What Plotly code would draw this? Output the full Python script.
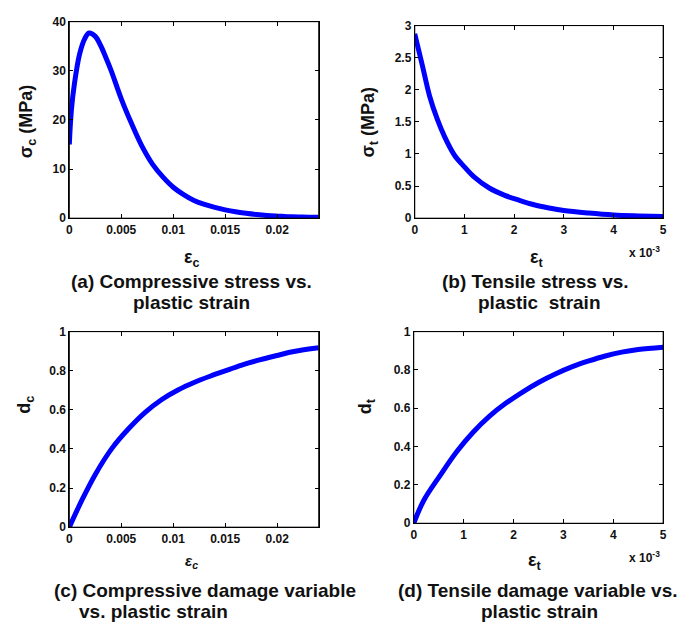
import plotly.graph_objects as go

# (a) compressive stress vs plastic strain
eps_c_a = [0, 0.0002, 0.0005, 0.001, 0.0015, 0.0019, 0.0025, 0.003, 0.0035, 0.004,
           0.005, 0.006, 0.007, 0.008, 0.009, 0.010, 0.011, 0.012, 0.013, 0.014,
           0.015, 0.016, 0.017, 0.018, 0.019, 0.020, 0.021, 0.022, 0.023, 0.024]
sigma_c = [15, 22, 27.5, 33.5, 36.6, 37.7, 37.0, 35.2, 32.8, 30.2,
           24.3, 19.2, 14.6, 11.0, 8.4, 6.3, 4.8, 3.6, 2.8, 2.2,
           1.7, 1.3, 1.0, 0.75, 0.55, 0.42, 0.32, 0.25, 0.2, 0.17]

# (b) tensile stress vs plastic strain (strain in units of 1e-3)
eps_t_b = [0, 0.15, 0.3, 0.45, 0.6, 0.8, 1.0, 1.2, 1.5, 1.8, 2.1, 2.4, 2.7, 3.0, 3.5, 4.0, 4.5, 5.0]
sigma_t = [2.87, 2.39, 1.9, 1.55, 1.27, 0.98, 0.80, 0.64, 0.47, 0.36, 0.28, 0.21, 0.16, 0.12,
           0.08, 0.05, 0.035, 0.025]

# (c) compressive damage variable
eps_c_c = [0, 0.0012, 0.0025, 0.0041, 0.0057, 0.0073, 0.0089, 0.0105, 0.0120, 0.0136,
           0.0152, 0.0168, 0.0184, 0.0200, 0.0216, 0.0240]
d_c = [0, 0.137, 0.27, 0.403, 0.503, 0.587, 0.653, 0.703, 0.74, 0.773,
       0.803, 0.833, 0.857, 0.878, 0.898, 0.917]

# (d) tensile damage variable (strain in units of 1e-3)
eps_t_d = [0, 0.2, 0.53, 0.86, 1.19, 1.52, 1.85, 2.19, 2.52, 2.85, 3.18, 3.51, 3.84, 4.17, 4.5, 5.0]
d_t = [0, 0.119, 0.25, 0.373, 0.475, 0.559, 0.627, 0.686, 0.737, 0.78, 0.817, 0.847,
       0.873, 0.893, 0.907, 0.919]

W, H = 683, 630
FONT = "Liberation Sans, Arial, sans-serif"
BLUE = "#0000FF"


def px(x):
    return x / W


def py(y):
    return 1 - y / H


fig = go.Figure()

panels = [
    (eps_c_a, sigma_c, "", (67, 319), (15, 216), [0, 0.024], [0, 40], 0.005, 10),
    (eps_t_b, sigma_t, "2", (416, 667), (19, 216), [0, 5], [0, 3], 1, 0.5),
    (eps_c_c, d_c, "3", (67, 319), (332, 532), [0, 0.024], [0, 1], 0.005, 0.2),
    (eps_t_d, d_t, "4", (415, 667), (332, 528), [0, 5], [0, 1], 1, 0.2),
]

layout = {}
shapes = []
for xs, ys, s, (x0, x1), (y0, y1), xr, yr, xd, yd in panels:
    fig.add_trace(go.Scatter(x=xs, y=ys, mode="lines",
                             line=dict(color=BLUE, width=5, shape="spline", smoothing=1.0),
                             xaxis="x" + s, yaxis="y" + s, showlegend=False))
    common = dict(showline=True, linecolor="black", linewidth=1, mirror="ticks", ticks="inside",
                  ticklen=4, tickwidth=1, tickcolor="black", showgrid=False, zeroline=False,
                  tickfont=dict(family=FONT, size=12, color="#111", weight="bold"))
    layout["xaxis" + s] = dict(domain=[px(x0), px(x1)], range=xr, dtick=xd, tick0=0,
                               anchor="y" + s, **common)
    layout["yaxis" + s] = dict(domain=[py(y1), py(y0)], range=yr, dtick=yd, tick0=0,
                               anchor="x" + s, **common)
    shapes.append(dict(type="rect", xref="x" + s + " domain", yref="y" + s + " domain",
                       x0=0, x1=1, y0=0, y1=1, line=dict(color="black", width=1),
                       fillcolor="rgba(0,0,0,0)", layer="above"))

fig.update_layout(**layout)

annots = []


def txt(x, y, text, size, angle=0, xanchor="center", italic=False):
    annots.append(dict(x=px(x), y=py(y), xref="paper", yref="paper", text=text, showarrow=False,
                       textangle=angle, xanchor=xanchor, yanchor="middle",
                       font=dict(family=FONT, size=size, color="#111", weight="bold",
                                 style="italic" if italic else "normal")))


# axis titles
txt(25, 117, "σ<sub>c</sub> (MPa)", 18, angle=-90)
txt(370, 118, "σ<sub>t</sub> (MPa)", 18, angle=-90)
txt(23, 407, "d<sub>c</sub>", 18, angle=-90)
txt(368, 408, "d<sub>t</sub>", 18, angle=-90)
txt(191, 257, "ε<sub>c</sub>", 18)
txt(540, 257, "ε<sub>t</sub>", 18)
txt(190, 567, "ε<sub>c</sub>", 15, italic=True)
txt(538, 567, "ε<sub>t</sub>", 18)
txt(648, 251, "x 10<sup>-3</sup>", 12)
txt(648, 563, "x 10<sup>-3</sup>", 12)

# captions
txt(190, 281, "(a) Compressive stress vs.", 19)
txt(190, 302, "plastic strain", 19)
txt(538, 281, "(b) Tensile stress vs.", 19)
txt(542, 302, "plastic  strain", 19)
txt(50, 597, "(c) Compressive damage variable", 19, xanchor="left")
txt(75, 618, "vs. plastic strain", 19, xanchor="left")
txt(540, 597, "(d) Tensile damage variable vs.", 19)
txt(542, 618, "plastic strain", 19)

fig.update_layout(annotations=annots, shapes=shapes, width=W, height=H,
                  margin=dict(l=0, r=0, t=0, b=0),
                  paper_bgcolor="white", plot_bgcolor="white")

fig.write_html("out.html", config={"displayModeBar": False},
               post_script="document.body.style.margin='0px';")
